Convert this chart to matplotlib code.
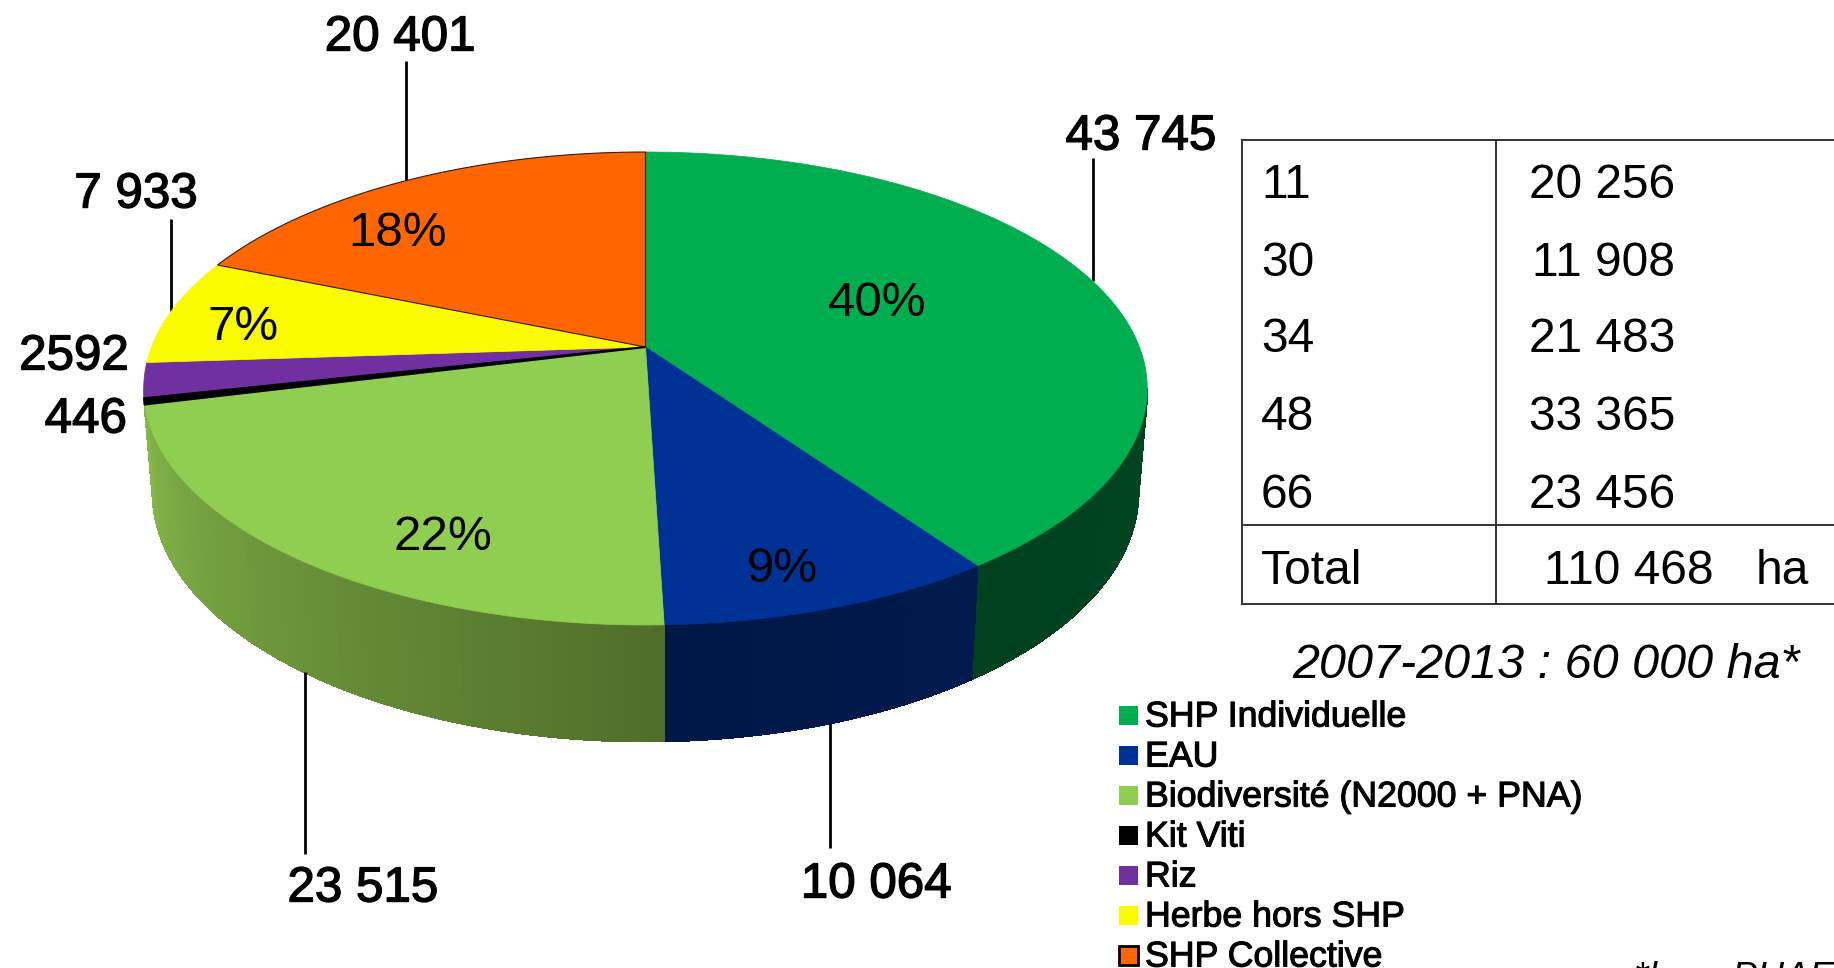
import matplotlib
matplotlib.use('Agg')
import matplotlib.pyplot as plt
import matplotlib.patheffects as pe
from matplotlib.colors import to_rgb
import numpy as np

plt.rcParams['font.family'] = ['Liberation Sans', 'DejaVu Sans']

categories = ['SHP Individuelle', 'EAU', 'Biodiversité (N2000 + PNA)', 'Kit Viti', 'Riz',
              'Herbe hors SHP', 'SHP Collective']
surfaces = [43745, 10064, 23515, 446, 2592, 7933, 20401]
surface_labels = ['43 745', '10 064', '23 515', '446', '2592', '7 933', '20 401']
percent_labels = ['40%', '9%', '22%', '', '', '7%', '18%']
colors = ['#00ad4f', '#003296', '#8fce50', '#000000', '#7030a0', '#fbfb00', '#ff6600']

dept_names = ['11', '30', '34', '48', '66']
dept_values = ['20 256', '11 908', '21 483', '33 365', '23 456']
total_value = '110 468'

# perspective of the disc, in pixels
CX = 645.5
TOP = (347, 494, 229.2)
BOTTOM = (449, 485, 241.0)
K = 0.1755


def project(theta, r, disc):
    y0, a, b = disc
    x = r * np.sin(theta)
    y = r * np.cos(theta)
    return CX + a * x / (1 + K * y), y0 - b * y / (1 + K * y)


def mid_angle(i):
    edges = np.cumsum([0] + surfaces) / sum(surfaces) * 2 * np.pi
    return (edges[i] + edges[i + 1]) / 2


def draw_wall(ax, t0, t1, c0, c1):
    # little quads along the rim, the colour slides from c0 to c1
    steps = np.linspace(t0, t1, 70)
    c0 = np.array(to_rgb(c0))
    c1 = np.array(to_rgb(c1))
    for j in range(len(steps) - 1):
        t = np.array([steps[j], steps[j + 1]])
        xa, ya = project(t, 1, TOP)
        xb, yb = project(t[::-1], 1, BOTTOM)
        c = c0 + (c1 - c0) * j / (len(steps) - 2)
        ax.fill(np.r_[xa, xb], np.r_[ya, yb], color=c, lw=1, antialiased=False, zorder=1)


fig = plt.figure(figsize=(18.34, 9.68), dpi=100, facecolor='white')
ax = fig.add_axes([0, 0, 1, 1])
ax.set_xlim(0, 1834)
ax.set_ylim(968, 0)
ax.axis('off')

edges = np.cumsum([0] + surfaces) / sum(surfaces) * 2 * np.pi

# side of the pie
draw_wall(ax, np.radians(100), edges[1], '#004522', '#004220')
draw_wall(ax, edges[1], edges[2], '#001a4e', '#001845')
draw_wall(ax, edges[2], np.radians(260), '#506e2a', '#86b84a')

# top of the pie
for i in range(len(surfaces)):
    t = np.linspace(edges[i], edges[i + 1], 120)
    x, y = project(t, 1, TOP)
    x = np.r_[CX, x]
    y = np.r_[TOP[0], y]
    if colors[i] == '#ff6600':
        ax.fill(x, y, facecolor=colors[i], edgecolor='#3a1800', lw=0.8, zorder=2)
    elif colors[i] == '#000000':
        ax.fill(x, y, facecolor=colors[i], edgecolor='black', lw=1.5, zorder=3)
    else:
        ax.fill(x, y, color=colors[i], lw=0.5, zorder=2)

# percentages on the slices
pct_pos = [(877, 303), (782, 570), (443, 537), None, None, (243, 327), (398, 234)]
for lab, p in zip(percent_labels, pct_pos):
    if lab:
        ax.text(p[0], p[1], lab, fontsize=35.5, ha='center', va='center', color='black', zorder=5)

# surfaces around the pie, with their leader lines
stroke = [pe.withStroke(linewidth=1.0, foreground='black')]
label_pos = [(1141, 137, 'center'), (876, 885, 'center'), (363, 889, 'center'), (127, 420, 'right'),
             (129, 357, 'right'), (136, 195, 'center'), (400, 38, 'center')]
leader_end = [158, 848, 854, None, None, 219, 61]
for i, lab in enumerate(surface_labels):
    px, py, ha = label_pos[i]
    ax.text(px, py, lab, fontsize=35.5, ha=ha, va='center', color='black', path_effects=stroke, zorder=5)
    if leader_end[i] is not None:
        t = mid_angle(i)
        # the slices in front are reached by their lower rim
        disc = BOTTOM if np.cos(t) < 0 else TOP
        lx, ly = project(t, 1, disc)
        ax.plot([lx, lx], [leader_end[i], ly], color='black', lw=2, solid_capstyle='butt', zorder=1.5)

# table by department
line_c = '#333333'
for yy in [140, 525, 603.5]:
    ax.plot([1242, 1834], [yy, yy], color=line_c, lw=1.4, zorder=1)
ax.plot([1242, 1242], [140, 603.5], color=line_c, lw=1.4, zorder=1)
ax.plot([1496, 1496], [140, 603.5], color=line_c, lw=1.4, zorder=1)
row_y = [185, 263, 340, 418, 495]
for name, val, yy in zip(dept_names, dept_values, row_y):
    ax.text(1261, yy, name, fontsize=34.5, ha='left', va='center')
    ax.text(1675, yy, val, fontsize=34.5, ha='right', va='center')
ax.text(1261, 571, 'Total', fontsize=34.5, ha='left', va='center')
ax.text(1714, 571, total_value, fontsize=34.5, ha='right', va='center')
ax.text(1756, 571, 'ha', fontsize=34.5, ha='left', va='center')

ax.text(1546, 665, '2007-2013 : 60 000 ha*', fontsize=34.9, style='italic', ha='center', va='center')

# legend
legend_y = [715, 755, 795, 835, 875, 915, 955]
thin = [pe.withStroke(linewidth=0.8, foreground='black')]
for i, (name, yy) in enumerate(zip(categories, legend_y)):
    edge = 'black' if name == 'SHP Collective' else colors[i]
    ax.add_patch(plt.Rectangle((1119, yy - 9.5), 19, 19, facecolor=colors[i], edgecolor=edge,
                               lw=2 if name == 'SHP Collective' else 0))
    ax.text(1145, yy + 2, name, fontsize=25.7, ha='left', va='center', path_effects=thin)

# note cut by the bottom of the picture
ax.text(1634, 961, '*hors PHAE', fontsize=27, style='italic', ha='left', va='top', clip_on=True)

fig.savefig('out.png', dpi=100)
